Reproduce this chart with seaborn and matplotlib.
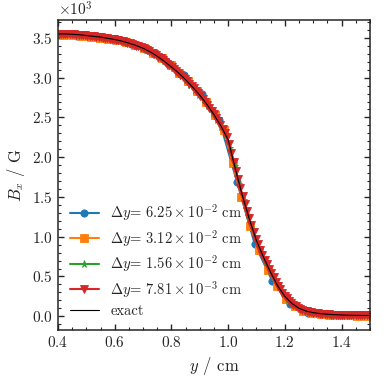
import numpy as np
import pandas as pd
import matplotlib
matplotlib.use("Agg")
import matplotlib.pyplot as plt
import matplotlib.ticker as mticker
import seaborn as sns

# Cell sizes (cm) of the four runs and the index of the first cell shown
dy_values = [6.25e-2, 3.125e-2, 1.5625e-2, 7.8125e-3]
first_cell = [6, 13, 26, 51]
labels = [r"$\Delta y$= $6.25\times10^{-2}$ cm",
          r"$\Delta y$= $3.12\times10^{-2}$ cm",
          r"$\Delta y$= $1.56\times10^{-2}$ cm",
          r"$\Delta y$= $7.81\times10^{-3}$ cm"]
colors = ['#1f77b4', '#ff7f0e', '#2ca02c', '#d62728']
markers = ['o', 's', '*', 'v']

# B_x in units of 10^3 G
bx_dy1 = [3.542, 3.530, 3.508, 3.476, 3.427, 3.347, 3.208, 3.030, 2.790, 2.465,
          1.690, 0.910, 0.440, 0.150, 0.045, 0.020, 0.010, 0.006]

bx_dy2 = [3.542, 3.536, 3.527, 3.512, 3.500, 3.486, 3.470, 3.444, 3.411, 3.370,
          3.316, 3.244, 3.156, 3.064, 2.958, 2.836, 2.698, 2.536, 2.342, 1.925,
          1.502, 1.130, 0.830, 0.585, 0.380, 0.222, 0.125, 0.070, 0.045, 0.029,
          0.021, 0.015, 0.011, 0.009, 0.008]

bx_dy3 = [3.550, 3.549, 3.546, 3.543, 3.539, 3.534, 3.527, 3.520, 3.514, 3.508,
          3.498, 3.488, 3.478, 3.467, 3.452, 3.436, 3.418, 3.398, 3.377, 3.351,
          3.322, 3.290, 3.252, 3.210, 3.166, 3.121, 3.075, 3.024, 2.969, 2.910,
          2.850, 2.786, 2.716, 2.641, 2.560, 2.474, 2.382, 2.278, 2.120, 1.884,
          1.667, 1.462, 1.277, 1.100, 0.940, 0.805, 0.681, 0.567, 0.461, 0.362,
          0.278, 0.210, 0.156, 0.115, 0.087, 0.067, 0.053, 0.043, 0.035, 0.030,
          0.025, 0.021, 0.018, 0.016, 0.015, 0.013, 0.012, 0.011, 0.010, 0.010]

bx_dy4 = [3.550, 3.550, 3.550, 3.550, 3.548, 3.547, 3.545, 3.544, 3.542, 3.540,
          3.538, 3.535, 3.532, 3.529, 3.525, 3.522, 3.519, 3.516, 3.513, 3.510,
          3.505, 3.500, 3.495, 3.491, 3.486, 3.481, 3.476, 3.470, 3.463, 3.456,
          3.448, 3.440, 3.432, 3.423, 3.413, 3.404, 3.393, 3.382, 3.371, 3.358,
          3.344, 3.330, 3.315, 3.298, 3.281, 3.262, 3.242, 3.221, 3.199, 3.177,
          3.155, 3.133, 3.110, 3.087, 3.062, 3.037, 3.010, 2.983, 2.955, 2.925,
          2.895, 2.865, 2.834, 2.802, 2.769, 2.734, 2.698, 2.661, 2.621, 2.580,
          2.539, 2.496, 2.452, 2.406, 2.358, 2.306, 2.250, 2.165, 2.050, 1.940,
          1.828, 1.720, 1.614, 1.510, 1.415, 1.322, 1.232, 1.143, 1.058, 0.975,
          0.905, 0.838, 0.772, 0.710, 0.652, 0.595, 0.540, 0.488, 0.435, 0.385,
          0.340, 0.298, 0.258, 0.225, 0.196, 0.168, 0.145, 0.124, 0.106, 0.093,
          0.081, 0.071, 0.063, 0.056, 0.050, 0.045, 0.041, 0.037, 0.033, 0.031,
          0.028, 0.026, 0.024, 0.022, 0.020, 0.019, 0.018, 0.017, 0.016, 0.015,
          0.014, 0.013, 0.012, 0.012, 0.011, 0.011, 0.010, 0.010, 0.010, 0.010,
          0.010]

# exact solution, sampled every 0.025 cm from 0.4 to 1.5
bx_exact = [3.550, 3.550, 3.545, 3.540, 3.530, 3.520, 3.510, 3.495, 3.480, 3.460,
            3.435, 3.405, 3.370, 3.325, 3.270, 3.205, 3.135, 3.060, 2.975, 2.880,
            2.780, 2.665, 2.535, 2.390, 2.220, 1.860, 1.520, 1.220, 0.950, 0.740,
            0.550, 0.380, 0.250, 0.160, 0.100, 0.065, 0.045, 0.033, 0.025, 0.020,
            0.016, 0.013, 0.011, 0.010, 0.010]
y_exact = np.linspace(0.4, 1.5, len(bx_exact))

sns.set_style("ticks")
plt.rcParams['font.family'] = ['serif']
plt.rcParams['font.serif'] = ['cmr10', 'DejaVu Serif']
plt.rcParams['mathtext.fontset'] = 'cm'
plt.rcParams['axes.formatter.use_mathtext'] = True
plt.rcParams['axes.unicode_minus'] = False

fig = plt.figure(figsize=(3.89, 3.89), dpi=100)
ax = fig.add_axes([0.149, 0.152, 0.802, 0.797])

runs = [bx_dy1, bx_dy2, bx_dy3, bx_dy4]
for dy, i0, vals, lab, c, m in zip(dy_values, first_cell, runs, labels, colors, markers):
    y_cells = (np.arange(len(vals)) + i0 + 0.5) * dy
    df = pd.DataFrame({'y': y_cells, 'Bx': np.array(vals) * 1e3})
    sns.lineplot(ax=ax, data=df, x='y', y='Bx', color=c, marker=m, markersize=5.2,
                 markeredgecolor=c, markeredgewidth=0.6, linewidth=1.5, label=lab)

exact_df = pd.DataFrame({'y': y_exact, 'Bx': np.array(bx_exact) * 1e3})
sns.lineplot(ax=ax, data=exact_df, x='y', y='Bx', color='black', linewidth=0.8, label='exact')

ax.set_xlim(0.4, 1.5)
ax.xaxis.set_major_locator(mticker.MultipleLocator(0.2))
ax.xaxis.set_minor_locator(mticker.MultipleLocator(0.05))
ax.yaxis.set_major_locator(mticker.MultipleLocator(500))
ax.yaxis.set_minor_locator(mticker.MultipleLocator(100))
ax.ticklabel_format(axis='y', style='sci', scilimits=(3, 3))

ax.tick_params(which='both', direction='in', top=True, right=True, labelsize=11)
ax.tick_params(which='major', length=4, width=1)
ax.tick_params(which='minor', length=2.2, width=0.8)
for s in ax.spines.values():
    s.set_linewidth(1.1)
ax.yaxis.get_offset_text().set_fontsize(11)

ax.set_xlabel(r"$y$ / cm", fontsize=12)
ax.set_ylabel(r"$B_x$ / G", fontsize=12)

ax.legend(loc='lower left', frameon=False, fontsize=10.5, handlelength=2.0,
          handletextpad=0.8, labelspacing=0.32, borderaxespad=0.4)

fig.savefig('out.png', dpi=100)
